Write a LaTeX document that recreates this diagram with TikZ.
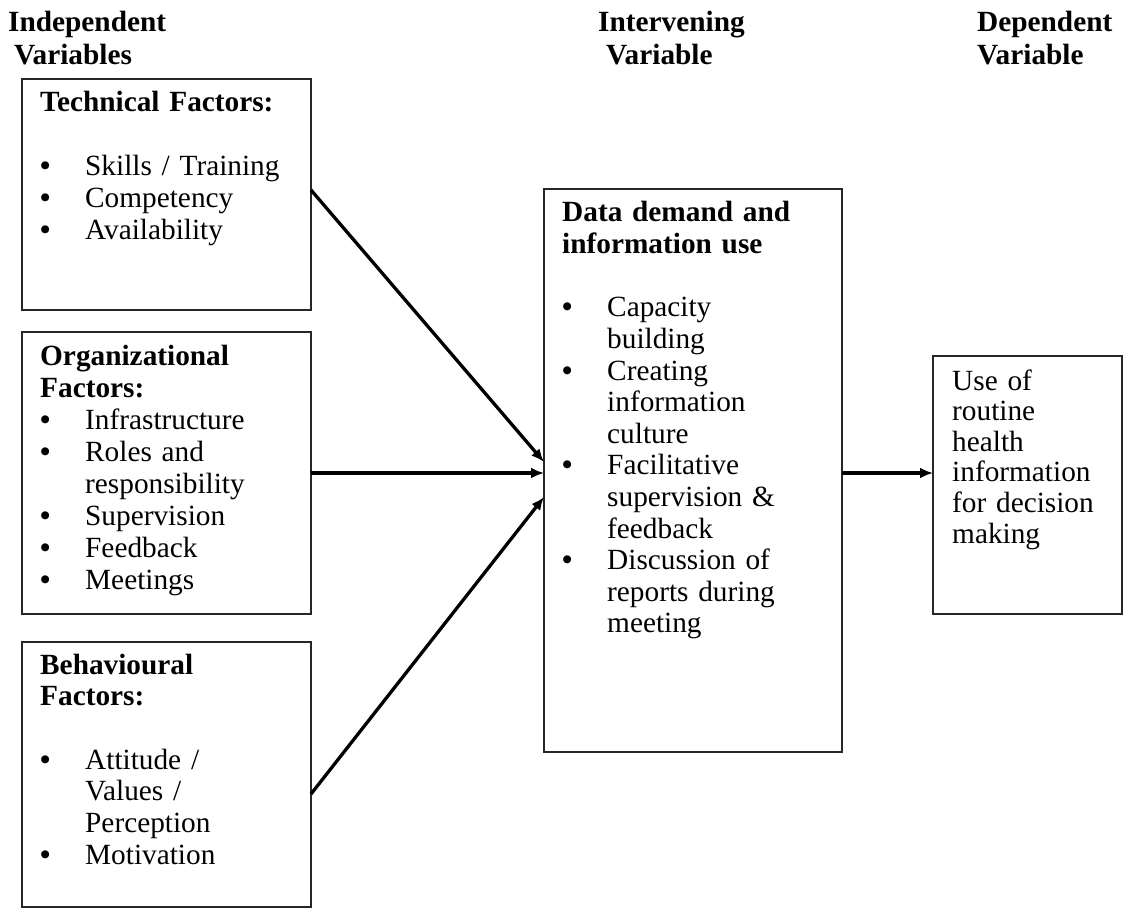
\documentclass[tikz,border=0pt]{standalone}
\usepackage{fontspec}
\setmainfont{Liberation Serif}
\usepackage{xcolor}
\usepackage{tikz}
\usetikzlibrary{calc,arrows.meta}
\definecolor{ink}{HTML}{000000}
\definecolor{frame}{HTML}{262626}
\newcommand{\bul}{\makebox[45pt][l]{\textbf{\textbullet}}}
\newcommand{\ind}{\hspace*{45pt}}
\tikzset{
  varbox/.style={draw=frame, line width=1.7pt, anchor=north west, inner sep=0pt, outer sep=0pt},
  body/.style={anchor=base west, inner sep=0pt, text width=330pt, align=left, text=ink,
    font=\fontsize{29.3}{#1}\selectfont},
  body/.default=32,
  hd/.style={body=33, font=\fontsize{29.3}{33}\selectfont\bfseries},
  link/.style={draw=ink, line width=3.3pt, -{Latex[length=13pt,width=11pt]}}
}

\begin{document}
\begin{tikzpicture}[x=1pt, y=1pt]
  \useasboundingbox (0,0) rectangle (1123,-909);

  % column headings
  \node[hd] (indephd) at (8,-32) {Independent\\\hspace*{6pt}Variables};
  \node[hd] (interhd) at (598,-32) {Intervening\\\hspace*{8pt}Variable};
  \node[hd] (dephd) at (977,-32) {Dependent\\Variable};

  % frames
  \node[varbox, minimum width=289pt, minimum height=231pt] (tech) at (22,-79) {};
  \node[varbox, minimum width=289pt, minimum height=282pt] (org) at (22,-332) {};
  \node[varbox, minimum width=289pt, minimum height=265pt] (beh) at (22,-642) {};
  \node[varbox, minimum width=298pt, minimum height=563pt] (inter) at (544,-189) {};
  \node[varbox, minimum width=189pt, minimum height=258pt] (dep) at (933,-356) {};

  % independent variables
  \node[body] (techtxt) at (40,-112) {\textbf{Technical Factors:}\\ ~\\
    \bul Skills / Training\\
    \bul Competency\\
    \bul Availability};
  \node[body] (orgtxt) at (40,-365) {\textbf{Organizational}\\\textbf{Factors:}\\
    \bul Infrastructure\\
    \bul Roles and\\\ind responsibility\\
    \bul Supervision\\
    \bul Feedback\\
    \bul Meetings};
  \node[body=31.7] (behtxt) at (40,-674) {\textbf{Behavioural}\\\textbf{Factors:}\\ ~\\
    \bul Attitude /\\\ind Values /\\\ind Perception\\
    \bul Motivation};

  % intervening variable
  \node[body=31.6] (intertxt) at (562,-222) {\textbf{Data demand and}\\\textbf{information use}\\ ~\\
    \bul Capacity\\\ind building\\
    \bul Creating\\\ind information\\\ind culture\\
    \bul Facilitative\\\ind supervision \&\\\ind feedback\\
    \bul Discussion of\\\ind reports during\\\ind meeting};

  % dependent variable
  \node[body=30.6] (deptxt) at (952,-390) {Use of\\routine\\health\\information\\for decision\\making};

  % arrows into and out of the middle box
  \draw[link] ($(tech.east)+(0,4.5)$) -- ($(inter.west)+(0,8.5)$);
  \draw[link, line width=3.8pt] (org.east) -- (inter.west |- org.east);
  \draw[link] ($(beh.east)+(0,-19.5)$) -- ($(inter.west)+(0,-26.5)$);
  \draw[link, line width=3.6pt] (inter.east |- org.east) -- (dep.west |- org.east);
\end{tikzpicture}
\end{document}
